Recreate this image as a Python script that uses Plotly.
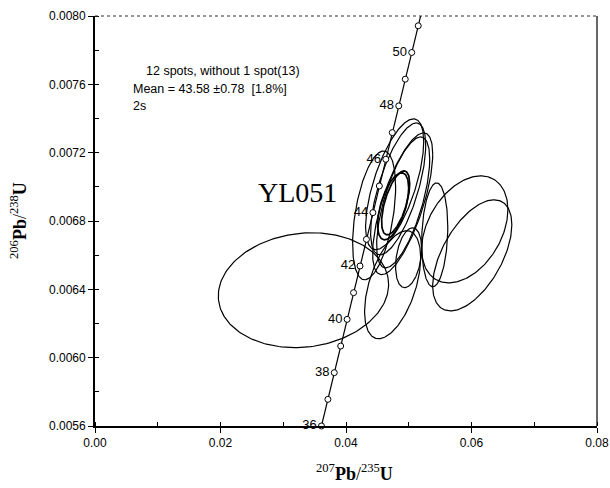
import numpy as np
import plotly.graph_objects as go

# Concordia reference points (age in Ma, 207Pb/235U, 206Pb/238U)
ages = [36, 37, 38, 39, 40, 41, 42, 43, 44, 45, 46, 47, 48, 49, 50, 51]
conc_x = [0.036091, 0.037112, 0.038133, 0.039156, 0.040180, 0.041205, 0.042231, 0.043258,
          0.044286, 0.045315, 0.046345, 0.047376, 0.048408, 0.049441, 0.050475, 0.051510]
conc_y = [0.0056001, 0.0057561, 0.0059122, 0.0060682, 0.0062243, 0.0063804, 0.0065365, 0.0066927,
          0.0068489, 0.0070050, 0.0071613, 0.0073175, 0.0074738, 0.0076301, 0.0077864, 0.0079428]
# curve continues beyond the plotted top
conc_line_x = conc_x + [0.052546]
conc_line_y = conc_y + [0.0080992]
age_labels = ["36", "", "38", "", "40", "", "42", "", "44", "", "46", "", "48", "", "50", ""]

# Error ellipses: centre, half-widths, correlation
ell_cx = [0.03322, 0.04775, 0.04831, 0.04903, 0.04911, 0.04448, 0.04751, 0.05414, 0.05893, 0.06012, 0.04998, 0.04743, 0.04791]
ell_cy = [0.006395, 0.007015, 0.006988, 0.006901, 0.006909, 0.006833, 0.006886, 0.006719, 0.006751, 0.006599, 0.006585, 0.006427, 0.006906]
ell_sx = [0.01357, 0.00463, 0.00439, 0.00479, 0.00423, 0.00343, 0.00248, 0.00208, 0.00687, 0.00631, 0.00208, 0.00447, 0.00224]
ell_sy = [0.000336, 0.000383, 0.000386, 0.000415, 0.000383, 0.000377, 0.000196, 0.000304, 0.000313, 0.000325, 0.000175, 0.000316, 0.000187]
ell_rho = [0.10, 0.65, 0.66, 0.70, 0.66, 0.44, 0.55, 0.15, 0.37, 0.55, 0.30, 0.50, 0.60]
ell_w = [1.2, 1.2, 1.2, 1.2, 1.2, 1.2, 1.7, 1.2, 1.2, 1.2, 1.2, 1.2, 1.7]

x_ticks = [0.00, 0.02, 0.04, 0.06, 0.08]
y_ticks = [0.0056, 0.0060, 0.0064, 0.0068, 0.0072, 0.0076, 0.0080]

fig = go.Figure()

t = np.linspace(0, 2 * np.pi, 200)
for cx, cy, sx, sy, r, w in zip(ell_cx, ell_cy, ell_sx, ell_sy, ell_rho, ell_w):
    ex = cx + sx * np.cos(t)
    ey = cy + sy * (r * np.cos(t) + np.sqrt(1 - r * r) * np.sin(t))
    fig.add_trace(go.Scatter(x=ex, y=ey, mode="lines",
                             line=dict(color="black", width=w), hoverinfo="skip"))

fig.add_trace(go.Scatter(x=conc_line_x, y=conc_line_y, mode="lines",
                         line=dict(color="black", width=1.2), hoverinfo="skip"))
fig.add_trace(go.Scatter(x=conc_x, y=conc_y, mode="markers+text", text=age_labels,
                         textposition="middle left", cliponaxis=False,
                         textfont=dict(family="Liberation Sans, Arial", size=13, color="black"),
                         marker=dict(symbol="circle", size=6, color="white",
                                     line=dict(color="black", width=1))))

L, R, T, B = 95, 597, 16, 426
W, H = 610, 488
def px(X):
    return (X - L) / (R - L)
def py(Y):
    return (B - Y) / (B - T)

ann_font = dict(family="Liberation Sans, Arial", size=12.5, color="black")
annotations = [
    dict(x=px(144), y=py(71), text="12 spots, without 1 spot(13)", xanchor="left", yanchor="middle",
         font=ann_font),
    dict(x=px(131), y=py(89), text="Mean = 43.58 \u00b10.78  [1.8%]", xanchor="left", yanchor="middle",
         font=ann_font),
    dict(x=px(131), y=py(106), text="2s", xanchor="left", yanchor="middle", font=ann_font),
    dict(x=px(297), y=py(192), text="YL051", xanchor="center", yanchor="middle",
         font=dict(family="Liberation Serif, Times New Roman", size=28, color="black")),
    dict(x=px(354), y=py(472), text="<sup>207</sup><b>Pb</b>/<sup>235</sup><b>U</b>",
         xanchor="center", yanchor="middle",
         font=dict(family="Liberation Serif, Times New Roman", size=18, color="black")),
    dict(x=px(18), y=py(221), text="<sup>206</sup><b>Pb</b>/<sup>238</sup><b>U</b>", textangle=-90,
         xanchor="center", yanchor="middle",
         font=dict(family="Liberation Serif, Times New Roman", size=18, color="black")),
]
for a in annotations:
    a.update(xref="paper", yref="paper", showarrow=False)

fig.update_layout(
    width=W, height=H,
    margin=dict(l=L, r=W - R, t=T, b=H - B, autoexpand=False),
    paper_bgcolor="white", plot_bgcolor="white",
    showlegend=False,
    annotations=annotations,
    font=dict(family="Liberation Sans, Arial", size=12, color="black"),
    shapes=[
        dict(type="line", xref="paper", yref="paper", x0=0, x1=1, y0=1, y1=1,
             line=dict(color="#333", width=1, dash="dot")),
        dict(type="line", xref="paper", yref="paper", x0=1, x1=1, y0=0, y1=1,
             line=dict(color="black", width=1.2)),
    ],
)
fig.update_xaxes(range=[0, 0.08], tickvals=x_ticks, ticktext=["%.2f" % v for v in x_ticks],
                 automargin=False, ticklabeloverflow="allow",
                 showgrid=False, zeroline=False, showline=True, linecolor="black", linewidth=1.8,
                 ticks="outside", ticklen=5, tickwidth=1.2, tickcolor="black",
                 minor=dict(ticks="inside", ticklen=4, dtick=0.01, tick0=0, tickcolor="black", showgrid=False),
                 tickfont=dict(size=12))
fig.update_yaxes(range=[0.0056, 0.0080], tickvals=y_ticks, ticktext=["%.4f" % v for v in y_ticks],
                 automargin=False,
                 showgrid=False, zeroline=False, showline=True, linecolor="black", linewidth=1.8,
                 ticks="outside", ticklen=5, tickwidth=1.2, tickcolor="black",
                 minor=dict(ticks="inside", ticklen=4, dtick=0.0002, tick0=0.0056, tickcolor="black", showgrid=False),
                 tickfont=dict(size=12))

fig.write_html("out.html", config={"displayModeBar": False},
               post_script="document.body.style.margin='0px';document.body.style.overflow='hidden';")
